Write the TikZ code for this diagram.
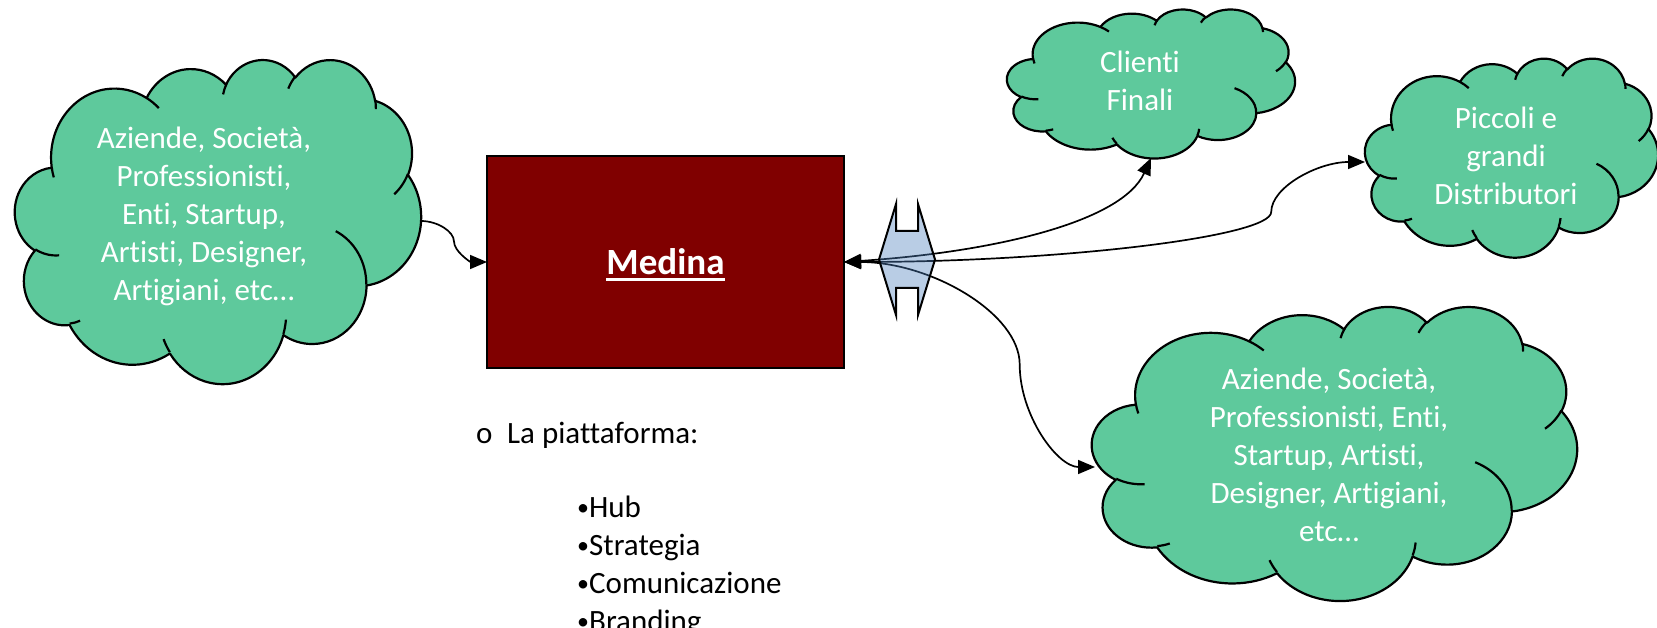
\documentclass[tikz,border=0pt]{standalone}
\usepackage{fontspec}
\setmainfont{Carlito}[Ligatures=NoCommon]
\usetikzlibrary{arrows.meta,calc}
\definecolor{cloudgreen}{RGB}{94,201,156}
\definecolor{medred}{RGB}{128,0,0}
\definecolor{hexblue}{RGB}{79,129,189}
\newcommand\medul[1]{\setbox0=\hbox{#1}\rlap{\rule[-5.7pt]{\wd0}{3pt}}\box0}
\newcommand\smbul{\raisebox{2pt}{\fontsize{24}{24}\selectfont •}}
% Office-style cloud drawn in the box of node #1, units #2 x #3 (pt per percent)
\newcommand\drawcloud[3]{%
\begin{scope}[shift={(#1.north west)},x=#2pt,y=-#3pt]
\filldraw[cloudline,fill=cloudgreen] (9.028,33.264)
 arc[start angle=-187.745,end angle=-59.63,x radius=15.632,y radius=21.273]
 arc[start angle=-152.04,end angle=-45.46,x radius=12.345,y radius=16.822]
 arc[start angle=-153.49,end angle=-37.33,x radius=10.104,y radius=13.762]
 arc[start angle=-139.71,end angle=-10.21,x radius=11.243,y radius=15.266]
 arc[start angle=-74.77,end angle=23.21,x radius=12.345,y radius=16.836]
 arc[start angle=-37.52,end angle=81.86,x radius=15.683,y radius=21.343]
 arc[start angle=0.46,end angle=121.97,x radius=13.391,y radius=18.211]
 arc[start angle=16.84,end angle=146.22,x radius=15.630,y radius=21.331]
 arc[start angle=58.99,end angle=150.19,x radius=17.870,y radius=24.405]
 arc[start angle=-276.69,end angle=-136.90,x radius=10.093,y radius=13.699]
 arc[start angle=-239.64,end angle=-95.89,x radius=10.058,y radius=13.762]
 -- cycle;
\draw[cloudline]
 (10.863,60.595) arc[start angle=85.55,end angle=120.36,x radius=10.058,y radius=13.762]
 (16.037,80.785) arc[start angle=68.23,end angle=83.31,x radius=10.093,y radius=13.699]
 (38.144,90.486) arc[start angle=146.22,end angle=158.47,x radius=15.630,y radius=21.331]
 (66.729,80.442) arc[start angle=4.735,end angle=16.84,x radius=15.630,y radius=21.331]
 (79.002,53.134) arc[start angle=-64.03,end angle=0.46,x radius=13.391,y radius=18.211]
 (96.755,35.542) arc[start angle=23.21,end angle=49.64,x radius=12.345,y radius=16.836]
 (88.713,12.560) arc[start angle=-10.21,end angle=0.821,x radius=11.243,y radius=15.266]
 (67.310,9.148) arc[start angle=-156.27,end angle=-139.71,x radius=11.243,y radius=15.266]
 (51.252,10.926) arc[start angle=-167.73,end angle=-153.49,x radius=10.104,y radius=13.762]
 (32.407,12.019) arc[start angle=-59.63,end angle=-45.74,x radius=15.632,y radius=21.273]
 (9.553,36.549) arc[start angle=163.20,end angle=172.255,x radius=15.632,y radius=21.273];
\end{scope}}
\begin{document}
\begin{tikzpicture}[x=1pt,y=-1pt,
  cbox/.style={inner sep=0pt,outer sep=0pt},
  cloudline/.style={draw=black,line width=2.2pt,line join=round},
  ctext/.style={text=white,align=center,font=\fontsize{31}{38}\selectfont,inner sep=0pt,anchor=north},
  plain/.style={text=black,font=\fontsize{31}{38}\selectfont,inner sep=0pt,anchor=base west},
  medbox/.style={draw=black,line width=2pt,fill=medred,minimum width=357pt,minimum height=212pt,inner sep=0pt,outer sep=0pt},
  tip/.tip={Triangle[length=17pt,width=14pt]},
  conn/.style={draw=black,line width=1.7pt},
  hexsty/.style={fill=hexblue,fill opacity=0.4,draw=black,draw opacity=1,line width=2pt,line join=miter}]
\useasboundingbox (0,0) rectangle (1657,628);
\clip (0,0) rectangle (1657,628);
% cloud boxes
\node[cbox,minimum width=406pt,minimum height=324pt] (cA) at (218,221) {};
\node[cbox,minimum width=288pt,minimum height=149pt] (cB) at (1151,83.5) {};
\node[cbox,minimum width=293pt,minimum height=199pt] (cC) at (1511.5,157.5) {};
\node[cbox,minimum width=485pt,minimum height=294pt] (cD) at (1334.5,453) {};
\drawcloud{cA}{4.06}{3.24}
\drawcloud{cB}{2.88}{1.49}
\drawcloud{cC}{2.93}{1.99}
\drawcloud{cD}{4.85}{2.94}
% central box
\node[medbox] (R) at (665.5,262) {};
\node[text=white,font=\bfseries\fontsize{37}{44}\selectfont,inner sep=0pt,anchor=base] (med) at (665.5,275) {\medul{Medina}};
% end points and bend points
\coordinate (Cend) at ($(cC.west)+(0,4.5)$);
\coordinate (Dend) at ($(cD.west)+(3,14)$);
\coordinate (Amid) at ($(cA.east)!0.5!(R.west)$);
\coordinate (Cx) at ($(R.east)!0.82!(Cend)$);
\coordinate (Cy) at ($(R.east)!0.5!(Cend)$);
\coordinate (Cm) at (Cx |- Cy);
\coordinate (Dx) at ($(R.east)!0.70!(Dend)$);
\coordinate (Dy) at ($(R.east)!0.5!(Dend)$);
\coordinate (Dm) at (Dx |- Dy);
% connectors
\draw[conn,-tip] (cA.east) .. controls +(16.5,0) and +(0,-10) .. (Amid)
   .. controls +(0,10) and +(-16.5,0) .. (R.west);
\draw[conn,tip-tip] (R.east) .. controls +(150,-10) and +(-29,64) .. (cB.south);
\draw[conn,tip-tip] (R.east) .. controls +(213.5,0) and +(0,25) .. (Cm)
   .. controls +(0,-25) and +(-47,0) .. (Cend);
\draw[conn,tip-tip] (R.east) .. controls +(87,0) and +(0,-51) .. (Dm)
   .. controls +(0,51) and +(-37.5,0) .. (Dend);
% double-notched hexagon
\coordinate (hx) at (907,259.5);
\begin{scope}[shift={(hx)}]
\filldraw[hexsty] (-28,0) -- (-11,-55.5) -- (-11,-28.5) -- (11,-28.5) -- (11,-55.5) -- (28,0)
  -- (11,55.5) -- (11,28.5) -- (-11,28.5) -- (-11,55.5) -- cycle;
\end{scope}
% cloud texts
\node[ctext] (tA) at (204,119) {\rule{0pt}{29pt}Aziende, Società,\\Professionisti,\\Enti, Startup,\\Artisti, Designer,\\Artigiani, etc…};
\node[ctext] (tB) at (1140,43) {\rule{0pt}{29pt}Clienti\\Finali};
\node[ctext] (tC) at (1506,99) {\rule{0pt}{29pt}Piccoli e\\grandi\\Distributori};
\node[ctext] (tD) at (1329,360) {\rule{0pt}{29pt}Aziende, Società,\\Professionisti, Enti,\\Startup, Artisti,\\Designer, Artigiani,\\etc…};
% list
\node[plain] (o) at (476,443) {o};
\node[plain] (lp) at (507,443) {La piattaforma:};
\node[plain] (b1) at (577,517) {\smbul Hub};
\node[plain] (b2) at (577,555) {\smbul Strategia};
\node[plain] (b3) at (577,593) {\smbul Comunicazione};
\node[plain] (b4) at (577,631) {\smbul Branding};
\end{tikzpicture}
\end{document}
